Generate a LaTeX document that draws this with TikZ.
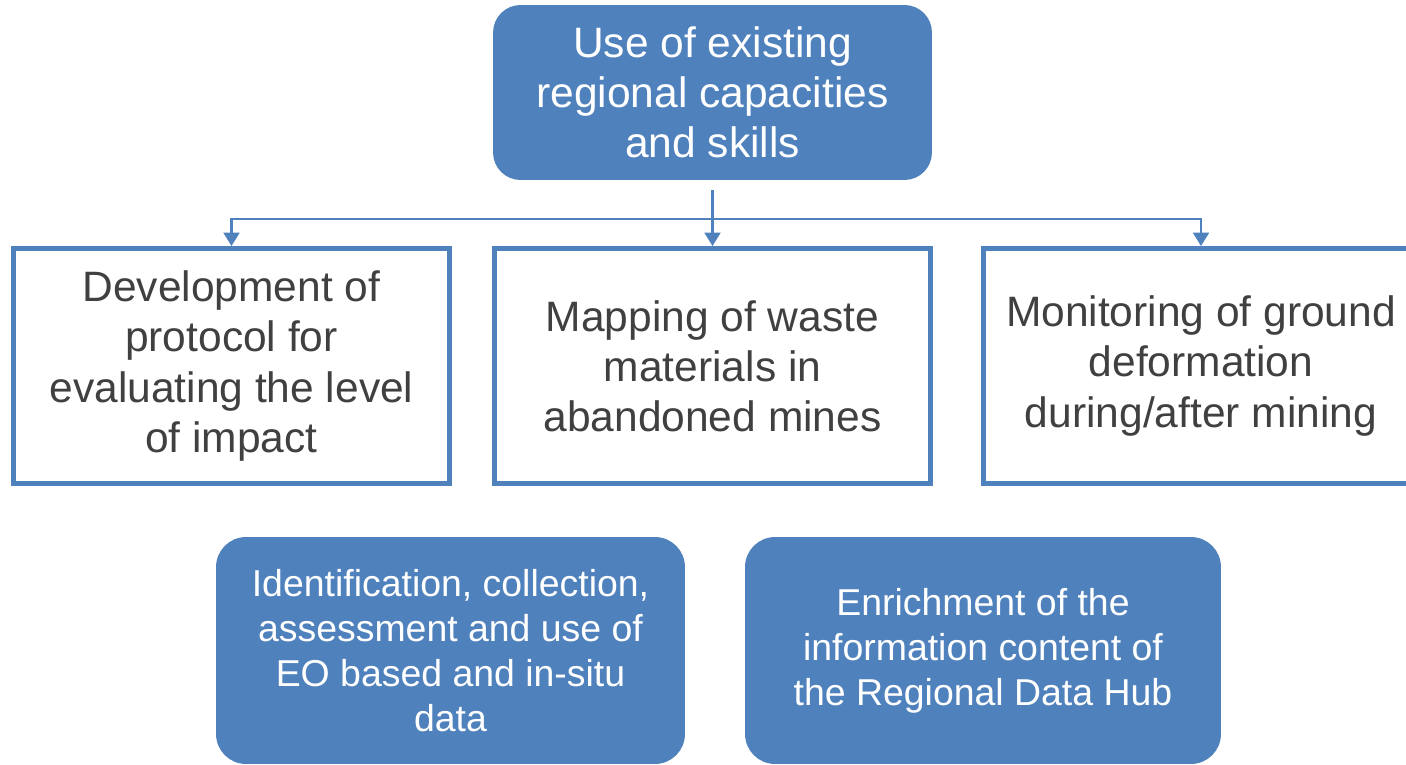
\documentclass[tikz,border=0pt]{standalone}
\usepackage{fontspec}
\setmainfont{Liberation Sans}
\usetikzlibrary{arrows.meta, positioning}
\definecolor{officeblue}{HTML}{4F81BD}
\definecolor{textgrey}{HTML}{404040}

\begin{document}
\begin{tikzpicture}[x=0.02cm, y=-0.02cm,
    goal/.style={rounded corners=0.55cm, fill=officeblue, draw=none, text=white,
        align=center, font=\fontsize{24.2}{28.5}\selectfont},
    task/.style={draw=officeblue, line width=0.1cm, fill=white, text=textgrey,
        align=center, minimum width=8.72cm, minimum height=4.7cm,
        font=\fontsize{24.2}{28.5}\selectfont},
    action/.style={rounded corners=0.6cm, fill=officeblue, text=white, align=center,
        minimum height=4.54cm, font=\fontsize{21.3}{25.6}\selectfont},
    link/.style={draw=officeblue, line width=0.05cm, -{Triangle[width=0.32cm, length=0.27cm]}}]
    \useasboundingbox (0,0) rectangle (1406,764);
    % Top goal
    \node[goal, minimum width=8.78cm, minimum height=3.5cm] (goal) at (712.5,92.5)
        {Use of existing\\regional capacities\\and skills};
    % Three tasks
    \node[task] (protocol) at (231.5,366)
        {Development of\\protocol for\\evaluating the level\\of impact};
    \node[task] (mapping) at (712.5,366)
        {Mapping of waste\\materials in\\abandoned mines};
    \node[task] (monitoring) at (1201,366)
        {Monitoring of ground\\deformation\\during/after mining};
    % Connectors
    \coordinate (bus) at (712.5,219);
    \draw[link, shorten <=0.2cm] (goal.south) -- (mapping.north);
    \draw[link] (bus) -| (protocol.north);
    \draw[link] (bus) -| (monitoring.north);
    % Bottom actions
    \node[action, minimum width=9.38cm] (eodata) at (450.5,650.5)
        {Identification, collection,\\assessment and use of\\EO based and in-situ\\data};
    \node[action, minimum width=9.52cm] (datahub) at (983,650.5)
        {Enrichment of the\\information content of\\the Regional Data Hub};
\end{tikzpicture}
\end{document}
